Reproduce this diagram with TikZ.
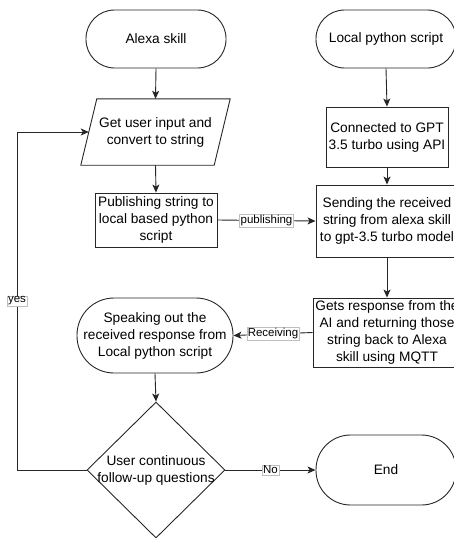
\documentclass[tikz,border=0pt]{standalone}
\usepackage{fontspec}
\setmainfont{Liberation Sans}
\usetikzlibrary{shapes.geometric,arrows.meta}
\begin{document}
\begin{tikzpicture}[x=1pt,y=-1pt,
  every node/.style={font=\fontsize{13.7}{17}\selectfont, align=center},
  base/.style={draw=black!85, line width=0.9pt, inner sep=0pt},
  term/.style={base, rounded corners=#1},
  boxnode/.style={base, rectangle},
  arr/.style={draw=black!85, line width=0.9pt, -{Stealth[length=8pt,width=7pt,inset=2pt]}},
  lbl/.style={font=\fontsize{11.5}{13}\selectfont, fill=white, draw=black!25, line width=0.4pt, inner sep=1pt}
]
\useasboundingbox (0,0) rectangle (453,538);
% left column
\node[term=28.5pt, minimum width=140pt, minimum height=58pt] (alexa) at (156,39) {Alexa skill};
\node[inner sep=0pt, minimum width=133pt, minimum height=66pt] (input) at (155.5,132) {Get user input and\\convert to string};
\draw[base] ([xshift=8pt]input.north west) -- ([xshift=8pt]input.north east)
  -- ([xshift=-8pt]input.south east) -- ([xshift=-8pt]input.south west) -- cycle;
\node[boxnode, minimum width=122pt, minimum height=54pt] (pub) at (156,220) {Publishing string to\\local based python\\script};
\node[term=37pt, minimum width=156pt, minimum height=75pt] (speak) at (155,335.5) {Speaking out the\\received response from\\Local python script};
\node[base, inner sep=2pt, diamond, minimum width=138pt, minimum height=136pt] (dec) at (156,470) {\strut};
\node (dectxt) at (156,470) {User continuous\\follow-up questions};
% right column
\node[term=28.5pt, minimum width=140pt, minimum height=58pt] (local) at (386,39) {Local python script};
\node[boxnode, minimum width=122pt, minimum height=60pt] (gpt) at (387,137) {Connected to GPT\\3.5 turbo using API};
\node[boxnode, minimum width=142pt, minimum height=72pt] (send) at (387,221) {Sending the received\\string from alexa skill\\to gpt-3.5 turbo model};
\node[boxnode, minimum width=148pt, minimum height=69pt] (gets) at (387,332.5) {Gets response from the\\AI and returning those\\string back to Alexa\\skill using MQTT};
\node[term=34.5pt, minimum width=140pt, minimum height=70pt] (end) at (386,470) {End};
\coordinate (loopx) at (17,0);
% connectors
\draw[arr] (alexa.south) -- (input.north);
\draw[arr] (input.south) -- (pub.north);
\draw[arr] (local.south) -- (gpt.north);
\draw[arr] (gpt.south) -- (send.north);
\draw[arr] (pub.east) -- node[lbl, pos=0.5] {publishing} (send.west);
\draw[arr] (send.south) -- (gets.north);
\draw[arr] (gets.west) -- node[lbl, pos=0.5] {Receiving} (speak.east);
\draw[arr] (speak.south) -- (dec.north);
\draw[arr] (dec.east) -- node[lbl, pos=0.5] {No} (end.west);
\draw[arr] (dec.west) -- (dec.west -| loopx) -- node[lbl, pos=0.5] {yes} (loopx |- input.west) -- (input.west);
\end{tikzpicture}
\end{document}
